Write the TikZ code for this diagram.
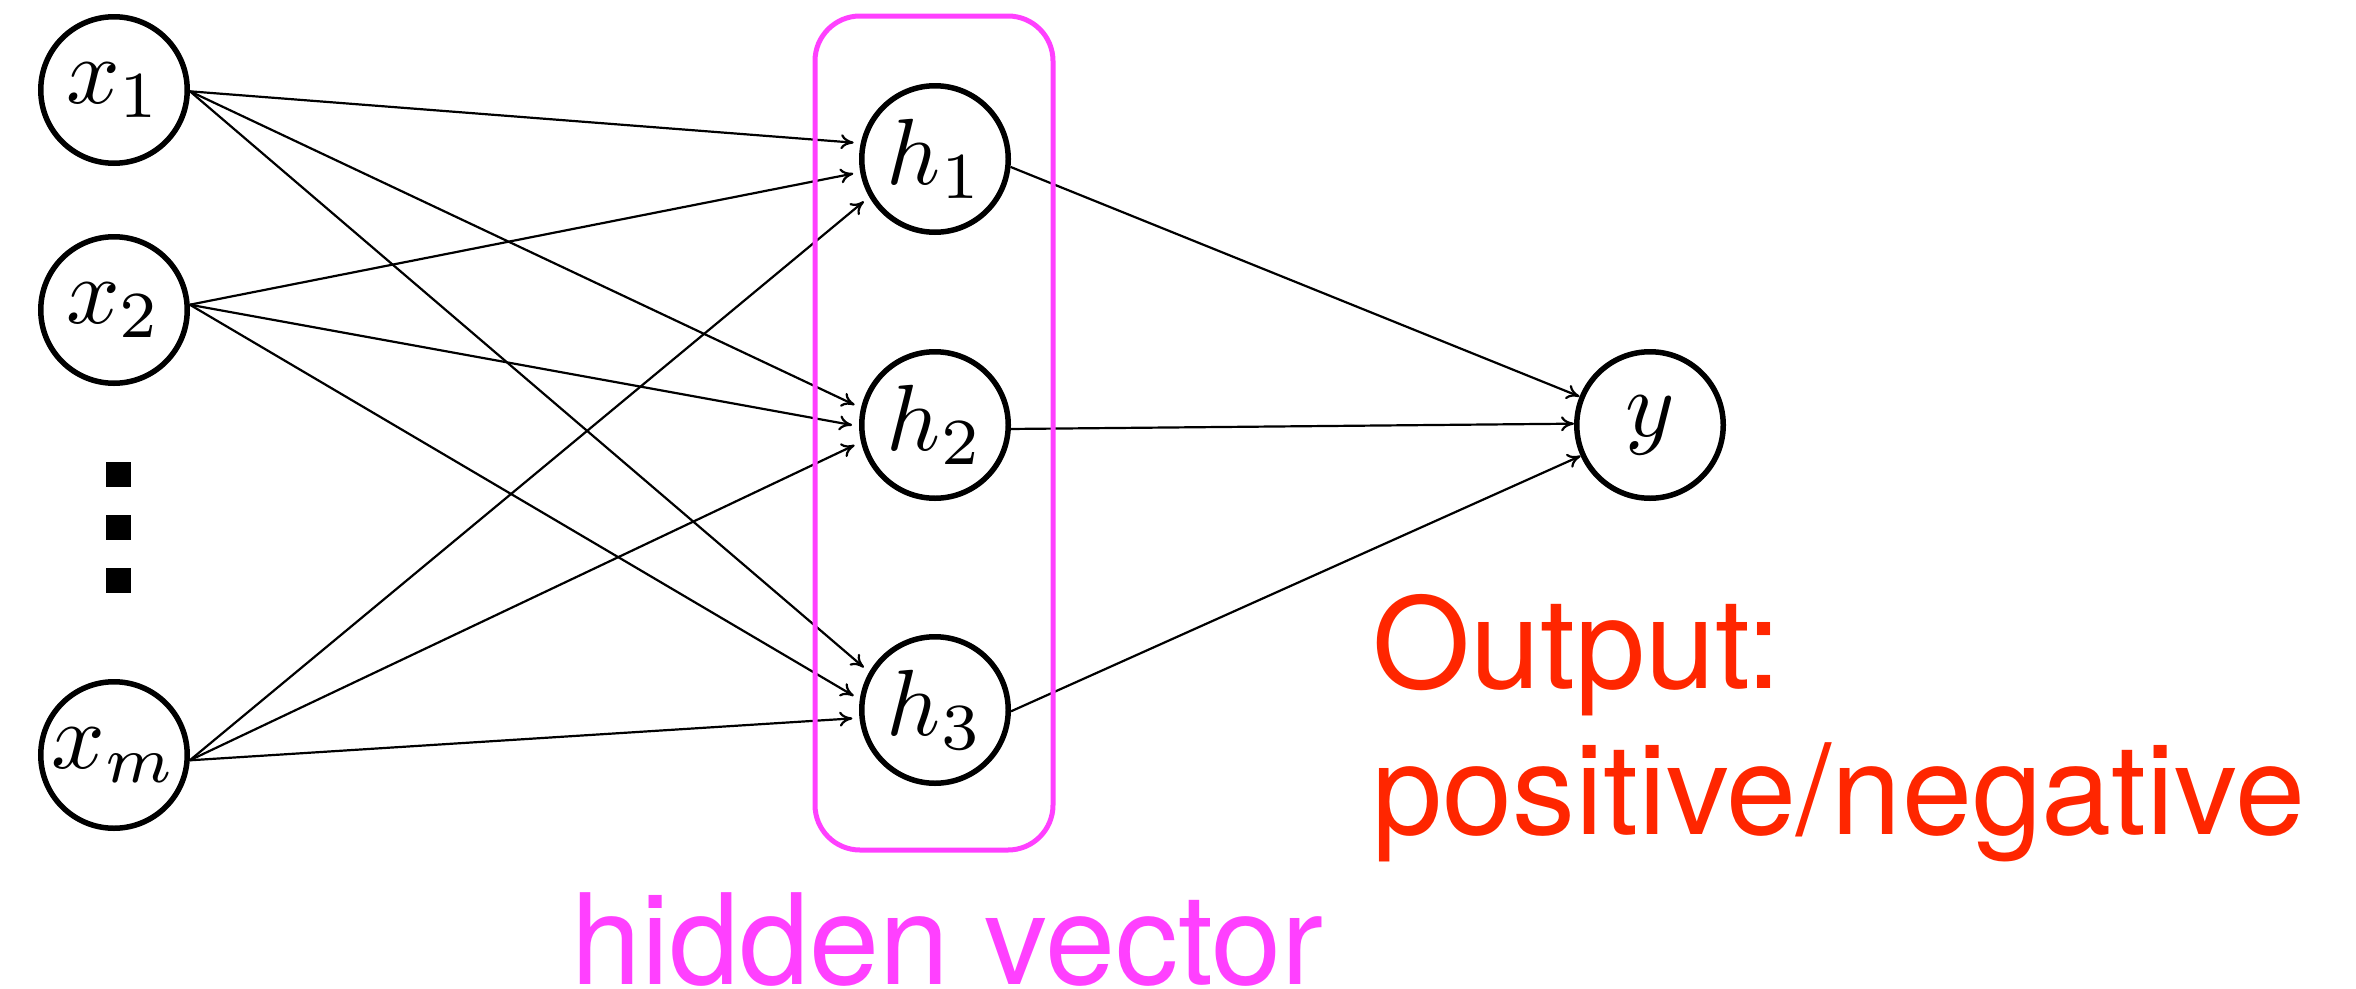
\documentclass[tikz,border=0pt]{standalone}
\usepackage{graphicx}
\usepackage{fontspec}
\newfontfamily\labelfont{TeX Gyre Heros}
\usetikzlibrary{arrows.meta}
\definecolor{outred}{RGB}{255,38,0}
\definecolor{boxmagenta}{RGB}{255,64,255}
\newcommand{\unitlabel}[1]{\scalebox{9.4}{$#1$}}
\begin{document}
\begin{tikzpicture}[x=1pt,y=-1pt,
  unit/.style={circle,draw,line width=5.5pt,minimum size=146.5pt,inner sep=0pt},
  dotmark/.style={fill,draw=none,minimum size=25pt,inner sep=0pt},
  link/.style={line width=2.2pt,-{Computer Modern Rightarrow[length=13pt,width=15pt]}},
  inlink/.style={link,shorten >=7pt},
  bigtext/.style={font=\labelfont\fontsize{126}{146}\selectfont,inner sep=0pt,anchor=base west}]
\useasboundingbox (0,0) rectangle (2356,988);

% input layer
\node[unit] (x1) at (114,90)  {\unitlabel{x_1}};
\node[unit] (x2) at (114,310) {\unitlabel{x_2}};
\node[unit] (xm) at (114,755) {\unitlabel{x_m}};
\node[dotmark] (d1) at (118.5,474) {};
\node[dotmark] (d2) at (118.5,527) {};
\node[dotmark] (d3) at (118.5,580) {};

% hidden layer
\node[unit] (h1) at (935,159) {\unitlabel{h_1}};
\node[unit] (h2) at (935,425) {\unitlabel{h_2}};
\node[unit] (h3) at (935,710) {\unitlabel{h_3}};

% output unit
\node[unit] (y) at (1650,425) {\unitlabel{y}};

% input -> hidden
\draw[inlink] (x1.-1) -- (h1.168);
\draw[inlink] (x1.-1) -- (h2.167);
\draw[inlink] (x1.-1) -- (h3.150);
\draw[inlink] (x2.4)  -- (h1.190);
\draw[inlink] (x2.4)  -- (h2.181);
\draw[inlink] (x2.4)  -- (h3.172);
\draw[inlink] (xm.-4) -- (h1.210);
\draw[inlink] (xm.-4) -- (h2.193);
\draw[inlink] (xm.-4) -- (h3.186);

% hidden -> output
\draw[link] (h1.-6) -- (y.158);
\draw[link] (h2.-3) -- (y.179);
\draw[link] (h3.-1) -- (y.204);

% frame around the hidden vector
\node[draw=boxmagenta,line width=5pt,rounded corners=45pt,
  minimum width=238pt,minimum height=834pt,inner sep=0pt] (hbox) at (934,433) {};

% labels (the base anchor of the two-line node sits on its last line)
\node[bigtext,text=boxmagenta] (hvlabel) at (571,984) {hidden vector};
\node[bigtext,text=outred,align=left] (outlabel) at (1372,834) {Output:\\positive/negative};
\end{tikzpicture}
\end{document}
